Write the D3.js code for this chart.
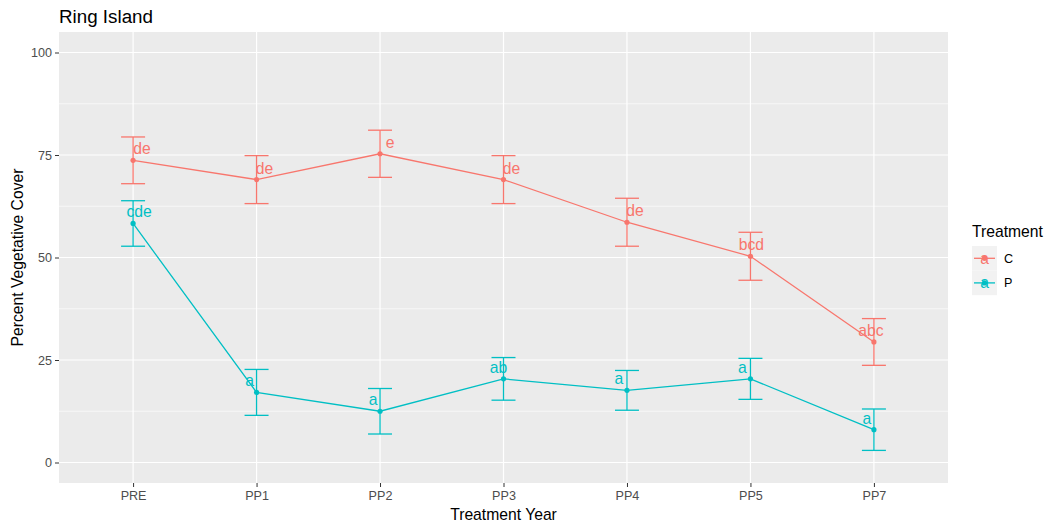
<!DOCTYPE html>
<html>
<head>
<meta charset="utf-8">
<script src="https://cdn.jsdelivr.net/npm/d3@7"></script>
<style>
  html, body { margin: 0; padding: 0; background: #fff; }
  text { font-family: "Liberation Sans", Arial, sans-serif; }
</style>
</head>
<body>
<svg id="chart" width="1050" height="527"></svg>
<script>
// Treatment years along the x axis
const years = ["PRE", "PP1", "PP2", "PP3", "PP4", "PP5", "PP7"];
const treatments = ["C", "P"];

// Mean percent vegetative cover per treatment
const meanC = [73.7, 69.0, 75.3, 69.0, 58.6, 50.3, 29.4];
const meanP = [58.3, 17.1, 12.5, 20.4, 17.6, 20.4, 8.0];

// Standard error (half-height of each error bar)
const seC = [5.7, 5.85, 5.75, 5.85, 5.85, 5.85, 5.7];
const seP = [5.55, 5.6, 5.55, 5.2, 4.85, 5.0, 5.05];

// Significance letters
const lettersC = ["de", "de", "e", "de", "de", "bcd", "abc"];
const lettersP = ["cde", "a", "a", "ab", "a", "a", "a"];

// Horizontal nudge of each letter label, in pixels
const nudgeC = [9, 8, 10, 8, 8, 1, -3];
const nudgeP = [6, -7, -7, -5, -8, -8, -7];

const yTicks = [0, 25, 50, 75, 100];
const yMinor = [12.5, 37.5, 62.5, 87.5];

const colors = { C: "#F8766D", P: "#00BFC4" };

const series = [
  { key: "C", mean: meanC, se: seC, letters: lettersC, nudge: nudgeC },
  { key: "P", mean: meanP, se: seP, letters: lettersP, nudge: nudgeP }
];

const svg = d3.select("#chart");
const panel = { left: 59, right: 948, top: 32, bottom: 483 };

const x = d3.scalePoint()
  .domain(years)
  .range([panel.left, panel.right])
  .padding(0.6);
const y = d3.scaleLinear()
  .domain([-5, 105])
  .range([panel.bottom, panel.top]);

// Panel background
svg.append("rect")
  .attr("x", panel.left).attr("y", panel.top)
  .attr("width", panel.right - panel.left)
  .attr("height", panel.bottom - panel.top)
  .attr("fill", "#EBEBEB");

// Grid lines
const grid = svg.append("g");
grid.selectAll(".minor").data(yMinor).join("line")
  .attr("x1", panel.left).attr("x2", panel.right)
  .attr("y1", d => y(d)).attr("y2", d => y(d))
  .attr("stroke", "#fff").attr("stroke-width", 0.6);
grid.selectAll(".majy").data(yTicks).join("line")
  .attr("x1", panel.left).attr("x2", panel.right)
  .attr("y1", d => y(d)).attr("y2", d => y(d))
  .attr("stroke", "#fff").attr("stroke-width", 1.2);
grid.selectAll(".majx").data(years).join("line")
  .attr("x1", d => x(d)).attr("x2", d => x(d))
  .attr("y1", panel.top).attr("y2", panel.bottom)
  .attr("stroke", "#fff").attr("stroke-width", 1.2);

// Axes
const xAxis = svg.append("g")
  .attr("transform", `translate(0,${panel.bottom})`)
  .call(d3.axisBottom(x).tickSize(4).tickPadding(4));
const yAxis = svg.append("g")
  .attr("transform", `translate(${panel.left},0)`)
  .call(d3.axisLeft(y).tickValues(yTicks).tickSize(4).tickPadding(3));
[xAxis, yAxis].forEach(a => {
  a.select(".domain").remove();
  a.selectAll(".tick line").attr("stroke", "#333").attr("stroke-width", 1);
  a.selectAll(".tick text")
    .attr("fill", "#4D4D4D")
    .style("font-size", "12.6px")
    .style("font-family", "'Liberation Sans', Arial, sans-serif");
});

// Series: lines, error bars, points, letters
const capHalf = 12;
series.forEach(s => {
  const col = colors[s.key];
  const pts = years.map((yr, i) => ({ yr, m: s.mean[i], se: s.se[i], lab: s.letters[i], dx: s.nudge[i] }));
  const g = svg.append("g");

  g.append("path")
    .datum(pts)
    .attr("d", d3.line().x(d => x(d.yr)).y(d => y(d.m)))
    .attr("fill", "none").attr("stroke", col).attr("stroke-width", 1.3);

  const eb = g.selectAll(".eb").data(pts).join("g");
  eb.append("line")
    .attr("x1", d => x(d.yr)).attr("x2", d => x(d.yr))
    .attr("y1", d => y(d.m - d.se)).attr("y2", d => y(d.m + d.se))
    .attr("stroke", col).attr("stroke-width", 1.3);
  eb.append("line")
    .attr("x1", d => x(d.yr) - capHalf).attr("x2", d => x(d.yr) + capHalf)
    .attr("y1", d => y(d.m + d.se)).attr("y2", d => y(d.m + d.se))
    .attr("stroke", col).attr("stroke-width", 1.3);
  eb.append("line")
    .attr("x1", d => x(d.yr) - capHalf).attr("x2", d => x(d.yr) + capHalf)
    .attr("y1", d => y(d.m - d.se)).attr("y2", d => y(d.m - d.se))
    .attr("stroke", col).attr("stroke-width", 1.3);

  g.selectAll("circle").data(pts).join("circle")
    .attr("cx", d => x(d.yr)).attr("cy", d => y(d.m))
    .attr("r", 2.6).attr("fill", col);

  g.selectAll(".lab").data(pts).join("text")
    .attr("x", d => x(d.yr) + d.dx)
    .attr("y", d => y(d.m) - 6)
    .attr("text-anchor", "middle")
    .attr("fill", col)
    .style("font-size", "15.7px")
    .text(d => d.lab);
});

// Title and axis titles
svg.append("text")
  .attr("x", panel.left).attr("y", 22.5)
  .attr("fill", "#000").style("font-size", "18.8px")
  .text("Ring Island");
svg.append("text")
  .attr("x", (panel.left + panel.right) / 2).attr("y", 520)
  .attr("text-anchor", "middle").attr("fill", "#000")
  .style("font-size", "15.7px")
  .text("Treatment Year");
svg.append("text")
  .attr("transform", `translate(23,${(panel.top + panel.bottom) / 2}) rotate(-90)`)
  .attr("text-anchor", "middle").attr("fill", "#000")
  .style("font-size", "15.7px")
  .text("Percent Vegetative Cover");

// Legend
const leg = svg.append("g");
leg.append("text")
  .attr("x", 972).attr("y", 237)
  .attr("fill", "#000").style("font-size", "15.7px")
  .text("Treatment");
const keyH = 24.6, keyW = 25, keyX = 972, keyY = 246;
treatments.forEach((t, i) => {
  const cy = keyY + keyH * i + keyH / 2;
  const cx = keyX + keyW / 2;
  leg.append("rect")
    .attr("x", keyX).attr("y", keyY + keyH * i)
    .attr("width", keyW).attr("height", keyH)
    .attr("fill", "#F2F2F2");
  leg.append("line")
    .attr("x1", keyX + 2).attr("x2", keyX + keyW - 2)
    .attr("y1", cy).attr("y2", cy)
    .attr("stroke", colors[t]).attr("stroke-width", 1.3);
  leg.append("circle")
    .attr("cx", cx).attr("cy", cy).attr("r", 2.6).attr("fill", colors[t]);
  leg.append("text")
    .attr("x", cx).attr("y", cy).attr("dy", "0.35em")
    .attr("text-anchor", "middle").attr("fill", colors[t])
    .style("font-size", "15.7px")
    .text("a");
  leg.append("text")
    .attr("x", 1004).attr("y", cy).attr("dy", "0.35em")
    .attr("fill", "#000").style("font-size", "12.6px")
    .text(t);
});
</script>
</body>
</html>
